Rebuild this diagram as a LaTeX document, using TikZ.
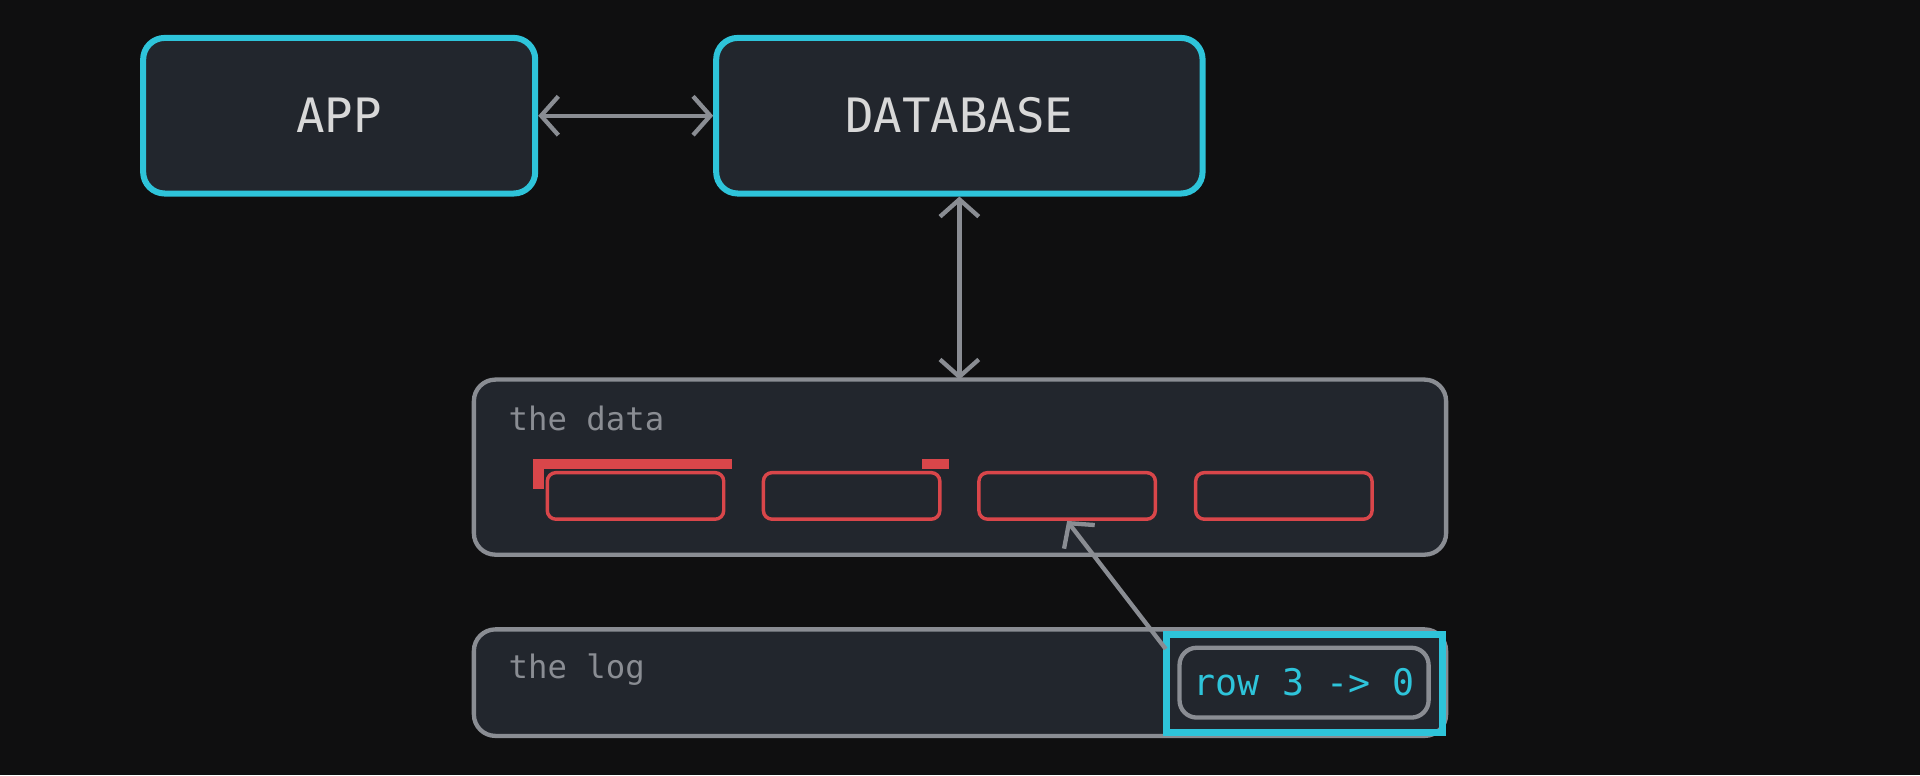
\documentclass[tikz,border=0pt]{standalone}
\usepackage{fontspec}
\setmainfont{DejaVu Sans Mono}
\usetikzlibrary{arrows.meta,backgrounds}
\definecolor{bgc}{HTML}{0F0F10}
\definecolor{boxc}{HTML}{22262D}
\definecolor{cyanc}{HTML}{2EC4DA}
\definecolor{greyc}{HTML}{8A8D93}
\definecolor{redc}{HTML}{D9464A}
\definecolor{textc}{HTML}{D8D8D8}
\tikzset{
  bigbox/.style={draw=cyanc, line width=1.4pt, fill=boxc, rounded corners=5pt,
    text=textc, font=\fontsize{11pt}{13pt}\selectfont, inner sep=0pt},
  panel/.style={draw=greyc, line width=1pt, fill=boxc, rounded corners=5pt},
  row/.style={draw=redc, line width=0.8pt, fill=boxc, rounded corners=2pt,
    minimum width=1.44cm, minimum height=0.38cm, inner sep=0pt},
  caption/.style={text=greyc, font=\fontsize{7.5pt}{9pt}\selectfont, anchor=west},
  link/.style={draw=greyc, line width=1pt, {Straight Barb[length=4pt,width=9pt]}-{Straight Barb[length=4pt,width=9pt]}},
}
\begin{document}
\begin{tikzpicture}[x=0.01cm, y=-0.01cm]
    \fill[bgc] (0,0) rectangle (1568,633);
    \useasboundingbox (0,0) rectangle (1568,633);

    % Top boxes
    \node[bigbox, minimum width=3.2cm, minimum height=1.27cm] (app) at (277,94.5) {APP};
    \node[bigbox, minimum width=3.97cm, minimum height=1.27cm] (db) at (783.5,94.5) {DATABASE};

    % Panels
    \path[panel] (387,310) rectangle (1181,453);
    \coordinate (datatop) at (783.5,310);
    \node[caption] (datalbl) at (403,342) {the data};
    \path[panel] (387,514) rectangle (1181,601);
    \node[caption] (loglbl) at (403,547) {the log};

    % Rows
    \foreach \x/\n in {519/r1, 695.5/r2, 871.5/r3, 1048.5/r4}
        \node[row] (\n) at (\x,405) {};

    % Markers
    \draw[redc, line width=2.5pt] (440,399) -- (440,379) -- (598,379);
    \draw[redc, line width=2.5pt] (753,379) -- (775,379);

    % Log entry
    \draw[cyanc, line width=1.6pt] (953,518) rectangle (1178,598);
    \node[draw=greyc, line width=1pt, rounded corners=4pt, minimum width=2.02cm,
      minimum height=0.57cm, text=cyanc, font=\fontsize{8.5pt}{10pt}\selectfont]
      (entry) at (1065,557.5) {row 3 -> 0};
    \coordinate (entrytail) at (952,530);

    % Connectors
    \draw[link] (app) -- (db);
    \draw[link] (db) -- (datatop);
    \draw[draw=greyc, line width=1pt, -{Straight Barb[length=4pt,width=9pt]}] (entrytail) -- (r3.south);
\end{tikzpicture}
\end{document}
